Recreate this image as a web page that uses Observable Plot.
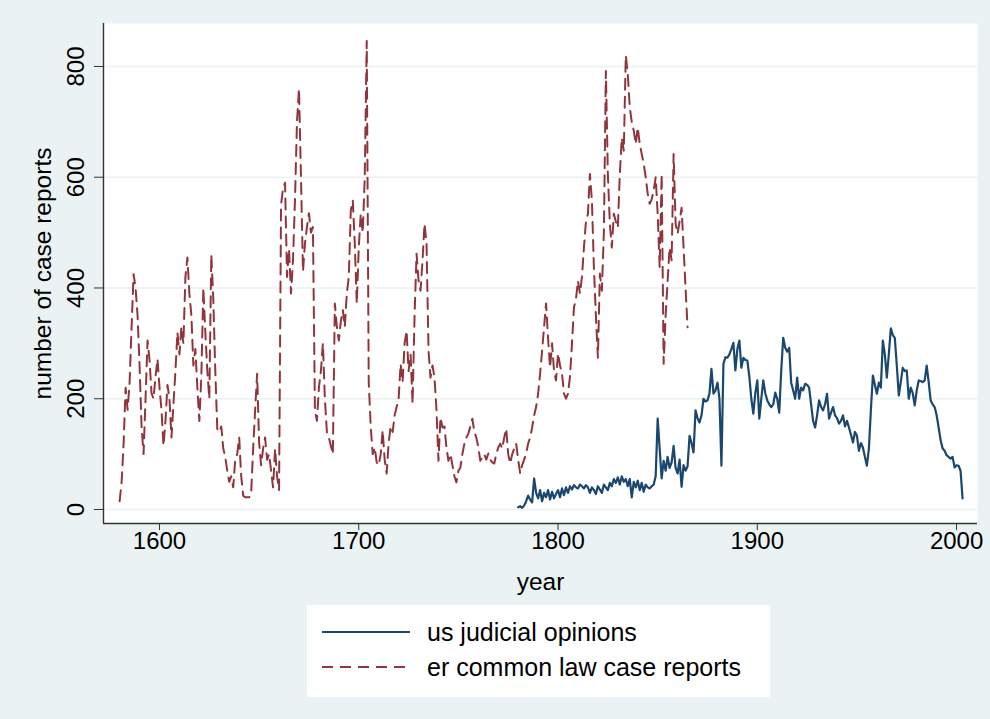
<!DOCTYPE html>
<html>
<head>
<meta charset="utf-8">
<script src="https://cdn.jsdelivr.net/npm/d3@7"></script>
<script src="https://cdn.jsdelivr.net/npm/@observablehq/plot@0.6"></script>
<style>
  html, body { margin: 0; padding: 0; background: #eaf2f3; }
  body { width: 990px; height: 719px; position: relative; overflow: hidden;
         font-family: "Liberation Sans", Arial, Helvetica, sans-serif; }
  #chart { position: absolute; left: 0; top: 0; }
  #legend { position: absolute; left: 307px; top: 605px; width: 463px; height: 92px; background: #fff; }
  .entry { position: absolute; left: 15px; height: 30px; display: flex; align-items: center; }
  .entry svg { display: block; }
  .entry span { position: absolute; left: 105px; white-space: nowrap; font-size: 25px; color: #000; }
</style>
</head>
<body>
<div id="chart"></div>
<div id="legend">
  <div class="entry" style="top:12px"><svg width="90" height="30"><line x1="0" x2="88" y1="15" y2="15" stroke="#1a476f" stroke-width="2.2"/></svg><span>us judicial opinions</span></div>
  <div class="entry" style="top:47px"><svg width="90" height="30"><line x1="0" x2="88" y1="15" y2="15" stroke="#90353b" stroke-width="2" stroke-dasharray="11,7"/></svg><span>er common law case reports</span></div>
</div>
<script>
// ---- data ----
const redStartYear = 1580; // er common law case reports, annual 1580-1865
const redValues = [
  15, 50, 120, 220, 180, 230, 330, 425, 400, 350,   // 1580-1589
  260, 150, 100, 200, 305, 270, 210, 200, 240, 272, // 1590-1599
  220, 180, 115, 160, 225, 200, 130, 190, 250, 320, // 1600-1609
  280, 330, 300, 420, 455, 390, 350, 260, 290, 220, // 1610-1619
  160, 240, 400, 320, 250, 200, 460, 380, 250, 145, // 1620-1629
  140, 150, 110, 95, 70, 50, 60, 40, 90, 100,       // 1630-1639
  130, 60, 25, 22, 22, 22, 30, 110, 180, 245,       // 1640-1649
  120, 80, 110, 130, 90, 100, 70, 40, 110, 60,      // 1650-1659
  35, 550, 580, 590, 420, 470, 390, 450, 560, 700,  // 1660-1669
  760, 600, 430, 480, 510, 535, 500, 510, 180, 160, // 1670-1679
  220, 250, 300, 200, 140, 130, 115, 100, 372, 330, // 1680-1689
  305, 340, 360, 330, 390, 420, 540, 558, 480, 372, // 1690-1699
  473, 534, 500, 600, 846, 230, 150, 100, 112, 85,  // 1700-1709
  80, 100, 143, 90, 65, 120, 150, 140, 170, 185,    // 1710-1719
  200, 263, 230, 300, 323, 250, 280, 191, 350, 462, // 1720-1729
  413, 395, 450, 516, 480, 287, 238, 260, 238, 180, // 1730-1739
  88, 166, 148, 150, 112, 88, 100, 80, 60, 49,      // 1740-1749
  70, 76, 100, 119, 130, 137, 150, 164, 140, 130,   // 1750-1759
  112, 88, 95, 100, 90, 101, 90, 85, 83, 100,       // 1760-1769
  112, 119, 110, 130, 146, 100, 83, 100, 110, 119,  // 1770-1779
  90, 65, 80, 90, 101, 119, 130, 148, 170, 185,     // 1780-1789
  209, 245, 287, 330, 372, 310, 256, 300, 250, 233, // 1790-1799
  282, 260, 245, 209, 200, 209, 240, 300, 365, 380, // 1800-1809
  413, 390, 420, 473, 520, 534, 606, 558, 437, 350, // 1810-1819
  274, 426, 395, 500, 792, 606, 516, 473, 534, 520, // 1820-1829
  509, 606, 671, 648, 820, 787, 726, 700, 684, 660, // 1830-1839
  690, 660, 642, 624, 600, 570, 552, 560, 576, 600, // 1840-1849
  534, 437, 606, 263, 350, 413, 473, 450, 642, 516, // 1850-1859
  498, 520, 545, 473, 400, 329                      // 1860-1865
];
const blueStartYear = 1780; // us judicial opinions, annual 1780-2003
const blueValues = [
  4, 6, 3, 7, 15, 25, 18, 13, 56, 30,               // 1780-1789
  20, 35, 15, 30, 22, 35, 18, 32, 20, 28,           // 1790-1799
  35, 22, 38, 26, 40, 30, 42, 36, 44, 40,           // 1800-1809
  38, 45, 42, 38, 44, 40, 30, 40, 35, 28,           // 1810-1819
  42, 36, 30, 45, 40, 35, 48, 42, 55, 48,           // 1820-1829
  58, 45, 60, 50, 55, 42, 55, 22, 50, 40,           // 1830-1839
  52, 35, 48, 32, 45, 40, 38, 42, 45, 60,           // 1840-1849
  164, 110, 56, 88, 70, 95, 75, 85, 115, 75,        // 1850-1859
  65, 90, 41, 80, 70, 78, 133, 120, 103, 179,       // 1860-1869
  165, 157, 170, 200, 195, 197, 210, 254, 209, 215, // 1870-1879
  229, 200, 79, 263, 275, 274, 280, 290, 301, 251,  // 1880-1889
  290, 305, 256, 274, 270, 269, 240, 200, 173, 210, // 1890-1899
  233, 164, 200, 233, 210, 197, 190, 185, 190, 211, // 1900-1909
  200, 175, 250, 310, 292, 285, 292, 229, 215, 200, // 1910-1919
  238, 200, 220, 215, 227, 225, 220, 190, 160, 148, // 1920-1929
  170, 197, 185, 179, 190, 209, 164, 175, 185, 170, // 1930-1939
  165, 155, 160, 170, 150, 160, 148, 135, 121, 140, // 1940-1949
  133, 106, 120, 112, 95, 79, 110, 180, 242, 225,   // 1950-1959
  209, 229, 220, 305, 280, 238, 280, 327, 315, 310, // 1960-1969
  260, 206, 230, 256, 250, 251, 200, 220, 210, 188, // 1970-1979
  215, 233, 232, 230, 233, 260, 230, 197, 190, 185, // 1980-1989
  170, 148, 125, 110, 106, 98, 95, 92, 95, 76,      // 1990-1999
  80, 79, 70, 20                                    // 2000-2003
];
const xTicks = [1600, 1700, 1800, 1900, 2000];
const yTicks = [0, 200, 400, 600, 800];
const xDomain = [1571.9, 2010.5];
const yDomain = [-25.3, 877.6];

const red = redValues.map((v, i) => ({year: redStartYear + i, value: v}));
const blue = blueValues.map((v, i) => ({year: blueStartYear + i, value: v}));

const font = "Liberation Sans, Arial, Helvetica, sans-serif";
const chart = Plot.plot({
  width: 990,
  height: 595,
  marginLeft: 103,
  marginRight: 13,
  marginTop: 23,
  marginBottom: 72,
  style: {background: "transparent", fontFamily: font, color: "#000", overflow: "visible"},
  x: {domain: xDomain},
  y: {domain: yDomain},
  marks: [
    Plot.frame({fill: "white", stroke: null}),
    Plot.gridY(yTicks, {stroke: "#eaf2f3", strokeOpacity: 1, strokeWidth: 1.6}),
    Plot.line(blue, {x: "year", y: "value", stroke: "#1a476f", strokeWidth: 2.2}),
    Plot.line(red, {x: "year", y: "value", stroke: "#90353b", strokeWidth: 2, strokeDasharray: "11,7"}),
    Plot.ruleX([xDomain[0]], {stroke: "#333", strokeWidth: 1.4}),
    Plot.ruleY([yDomain[0]], {stroke: "#333", strokeWidth: 1.4}),
    Plot.axisX(xTicks, {tickSize: 7, tickPadding: 1, fontSize: 24, stroke: "#333", tickFormat: "d", label: null}),
    Plot.axisX({ticks: [], tickSize: 0, fontSize: 24.5, label: "year", labelAnchor: "center", labelArrow: "none", labelOffset: 66}),
    Plot.axisY(yTicks, {tickSize: 9, tickPadding: 11, tickRotate: -90, fontSize: 24, stroke: "#333", tickFormat: "d", label: null}),
    Plot.axisY({ticks: [], tickSize: 0, fontSize: 24.5, label: "number of case reports", labelAnchor: "center", labelArrow: "none", labelOffset: 70})
  ]
});
document.getElementById("chart").appendChild(chart);
</script>
</body>
</html>
